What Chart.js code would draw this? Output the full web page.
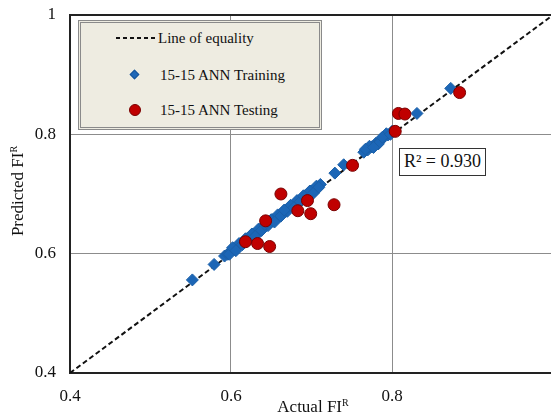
<!DOCTYPE html>
<html>
<head>
<meta charset="utf-8">
<script src="https://cdn.jsdelivr.net/npm/chart.js@4.4.1/dist/chart.umd.min.js"></script>
<style>
  html, body { margin: 0; padding: 0; background: #fff; overflow: hidden; }
  #wrap { position: relative; width: 551px; height: 417px; overflow: hidden;
          font-family: "Liberation Serif", "Times New Roman", serif; color: #111; }
  #chart { position: absolute; left: 0; top: 0; }
  .abs { position: absolute; white-space: nowrap; }
  .legendBox { left: 78px; top: 20px; width: 244px; height: 110px; box-sizing: border-box;
               background: #eeece1; border: 3px double #8a8a8a; }
  .lgText { font-size: 15px; line-height: 18px; }
  .dash { left: 116px; top: 37px; width: 41px; height: 2px;
          background: repeating-linear-gradient(90deg, #111 0 4px, transparent 4px 7px); }
  .diamond { left: 131px; top: 71px; width: 7px; height: 7px; transform: rotate(45deg);
             background: #1f68b8; border: 1px solid #17559a; box-sizing: border-box; }
  .circle { left: 129px; top: 104px; width: 12px; height: 12px; border-radius: 50%;
            background: #c00000; border: 1px solid #7a0000; box-sizing: border-box; }
  .r2 { left: 399px; top: 148px; width: 87px; height: 28px; box-sizing: border-box;
        border: 1.5px solid #333; background: #fff; font-size: 18px; line-height: 25px; text-align: center; }
  .title { font-size: 17px; line-height: 20px; text-align: center; width: 200px; }
  sup { font-size: 10px; line-height: 0; vertical-align: 6px; }
</style>
</head>
<body>
<div id="wrap">
  <canvas id="chart" width="560" height="417"></canvas>

  <div class="abs legendBox"></div>
  <div class="abs dash"></div>
  <div class="abs lgText" style="left:158px; top:29px;">Line of equality</div>
  <div class="abs diamond"></div>
  <div class="abs lgText" style="left:160px; top:66px;">15-15 ANN Training</div>
  <div class="abs circle"></div>
  <div class="abs lgText" style="left:160px; top:101px;">15-15 ANN Testing</div>

  <div class="abs r2">R² = 0.930</div>

  <div class="abs title" style="left:213px; top:397px;">Actual FI<sup>R</sup></div>
  <div class="abs title" style="left:-82px; top:181px; transform: rotate(-90deg);">Predicted FI<sup>R</sup></div>
</div>

<script>
// axis ticks
const tickValues = [0.4, 0.6, 0.8, 1.0];

// line of equality end points
const equalityX = [0.4, 1.0];
const equalityY = [0.4, 1.0];

// 15-15 ANN training (actual, predicted)
const trainActual = [0.552, 0.579, 0.592, 0.596, 0.600, 0.604, 0.608, 0.612, 0.616, 0.620,
  0.624, 0.628, 0.632, 0.636, 0.640, 0.644, 0.648, 0.652, 0.656, 0.660,
  0.664, 0.668, 0.672, 0.676, 0.680, 0.684, 0.688, 0.692, 0.696, 0.700,
  0.704, 0.708, 0.711, 0.729, 0.740, 0.765, 0.770, 0.775, 0.780, 0.785,
  0.790, 0.795, 0.800, 0.831, 0.873,
  0.598, 0.610, 0.622, 0.634, 0.646, 0.658, 0.670, 0.682, 0.694, 0.706,
  0.772, 0.783, 0.793,
  0.602, 0.614, 0.626, 0.638, 0.650, 0.662, 0.674, 0.686, 0.698, 0.709,
  0.606, 0.618, 0.630, 0.642, 0.654, 0.666, 0.678, 0.690, 0.702,
  0.767, 0.777, 0.788, 0.798];
const trainPredicted = [0.556, 0.582, 0.596, 0.599, 0.605, 0.607, 0.612, 0.616, 0.619, 0.625,
  0.627, 0.632, 0.636, 0.639, 0.645, 0.648, 0.651, 0.657, 0.660, 0.663,
  0.668, 0.671, 0.677, 0.679, 0.684, 0.688, 0.691, 0.697, 0.699, 0.705,
  0.707, 0.712, 0.716, 0.735, 0.749, 0.770, 0.774, 0.779, 0.785, 0.789,
  0.795, 0.799, 0.805, 0.835, 0.877,
  0.599, 0.617, 0.623, 0.641, 0.647, 0.665, 0.671, 0.689, 0.695, 0.713,
  0.780, 0.784, 0.801,
  0.610, 0.615, 0.633, 0.639, 0.657, 0.663, 0.681, 0.687, 0.705, 0.711,
  0.605, 0.625, 0.629, 0.649, 0.653, 0.673, 0.677, 0.697, 0.701,
  0.775, 0.778, 0.795, 0.800];

// 15-15 ANN testing (actual, predicted)
const testActual = [0.618, 0.633, 0.648, 0.643, 0.662, 0.683, 0.695, 0.699, 0.728, 0.751,
  0.804, 0.808, 0.816, 0.884];
const testPredicted = [0.620, 0.617, 0.612, 0.655, 0.700, 0.672, 0.689, 0.667, 0.682, 0.748,
  0.805, 0.835, 0.834, 0.870];

const toPoints = (xs, ys) => xs.map((x, i) => ({ x: x, y: ys[i] }));
const near = (a, b) => Math.abs(a - b) < 1e-6;
const fmt = v => String(+v.toFixed(1));
const serif = '"Liberation Serif", "Times New Roman", serif';

const gridColor = (ctx, isY) => {
  const v = ctx.tick ? ctx.tick.value : null;
  if (v === null) return 'rgba(0,0,0,0)';
  if (near(v, 0.6) || near(v, 0.8)) return '#8c8c8c';
  if (isY && near(v, 1.0)) return '#222';
  return 'rgba(0,0,0,0)';
};

new Chart(document.getElementById('chart').getContext('2d'), {
  type: 'scatter',
  data: {
    datasets: [
      {
        label: 'Line of equality',
        data: toPoints(equalityX, equalityY),
        showLine: true,
        borderColor: '#111',
        borderWidth: 2,
        borderDash: [5, 3],
        pointRadius: 0,
        order: 3
      },
      {
        label: '15-15 ANN Training',
        data: toPoints(trainActual, trainPredicted),
        pointStyle: 'rectRot',
        pointRadius: 6,
        backgroundColor: '#1c66b6',
        borderColor: '#1a5fa8',
        borderWidth: 1,
        order: 2
      },
      {
        label: '15-15 ANN Testing',
        data: toPoints(testActual, testPredicted),
        pointStyle: 'circle',
        pointRadius: 6,
        backgroundColor: '#c00000',
        borderColor: '#7a0000',
        borderWidth: 1,
        order: 1
      }
    ]
  },
  options: {
    responsive: false,
    animation: false,
    devicePixelRatio: 1,
    layout: { padding: { top: 15, right: 4, left: 0, bottom: 0 } },
    plugins: { legend: { display: false }, tooltip: { enabled: false } },
    scales: {
      x: {
        type: 'linear',
        min: 0.4,
        max: 1.0,
        afterFit: s => { s.height = 44; s.paddingLeft = 0; s.paddingRight = 0; },
        afterBuildTicks: s => { s.ticks = tickValues.map(v => ({ value: v })); },
        ticks: {
          padding: 13,
          color: '#111',
          font: { family: serif, size: 17 },
          maxRotation: 0,
          callback: v => near(v, 1.0) ? '' : fmt(v)
        },
        grid: { drawTicks: false, color: ctx => gridColor(ctx, false), lineWidth: 1 },
        border: { display: true, color: '#222', width: 2 }
      },
      y: {
        type: 'linear',
        min: 0.4,
        max: 1.0,
        afterFit: s => { s.width = 70; s.paddingTop = 0; s.paddingBottom = 0; },
        afterBuildTicks: s => { s.ticks = tickValues.map(v => ({ value: v })); },
        ticks: {
          padding: 14,
          color: '#111',
          font: { family: serif, size: 17 },
          callback: v => fmt(v)
        },
        grid: {
          drawTicks: false,
          color: ctx => gridColor(ctx, true),
          lineWidth: ctx => (ctx.tick && near(ctx.tick.value, 1.0)) ? 2 : 1
        },
        border: { display: true, color: '#222', width: 2 }
      }
    }
  }
});
</script>
</body>
</html>
